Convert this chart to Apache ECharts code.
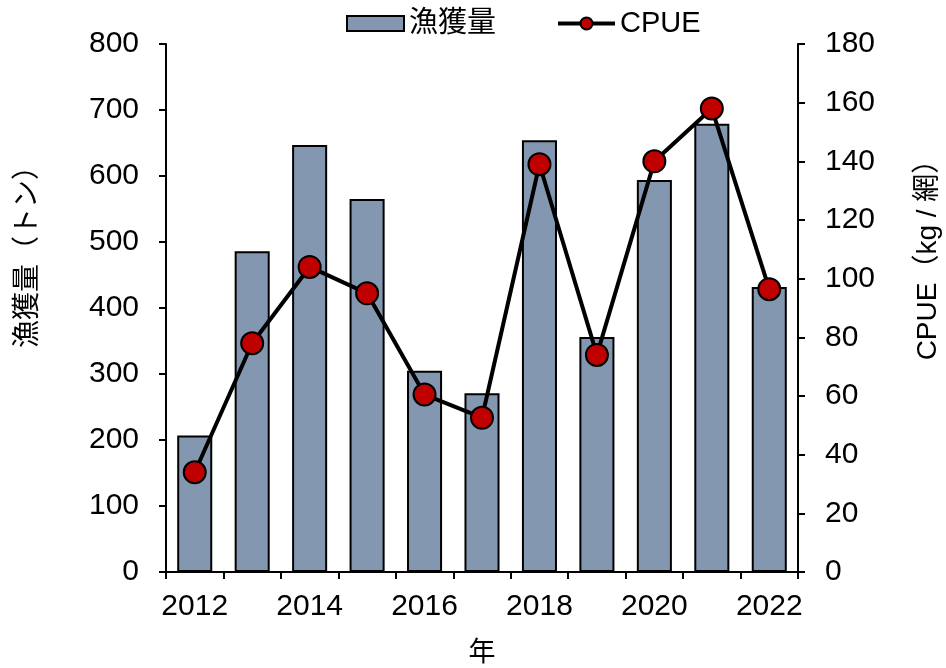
<!DOCTYPE html>
<html>
<head>
<meta charset="utf-8">
<script src="https://cdn.jsdelivr.net/npm/echarts@6/dist/echarts.min.js"></script>
<style>
	html, body {margin: 0; padding: 0; background: #fff;}
	#container {width: 946px; height: 668px;}
</style>
</head>
<body>
<div id="container"></div>
<script>
const Years = ['2012', '2013', '2014', '2015', '2016', '2017', '2018', '2019', '2020', '2021', '2022'];
const Catch = [207, 486, 647, 565, 305, 271, 654, 356, 594, 679, 432];
const Cpue = [34, 78, 104, 95, 60.5, 52.6, 139, 74, 140, 158, 96.4];

const Font = '"Liberation Sans", "Noto Sans CJK JP", sans-serif';
const axisLine = {show: true, lineStyle: {color: '#000', width: 2}};
const axisTick = {show: true, length: 7, lineStyle: {color: '#000', width: 2}};

const option = {
	textStyle: {fontFamily: Font, color: '#000'},
	legend: {
		left: 346, top: 9, padding: 0, itemWidth: 57, itemHeight: 15, itemGap: 60,
		textStyle: {fontSize: 29, color: '#000', fontFamily: Font},
		data: [{name: '漁獲量', icon: 'rect'}, {name: 'CPUE', lineStyle: {width: 4}}]
	},
	grid: {left: 166, right: 148, top: 44, bottom: 96, outerBoundsMode: 'none'},
	xAxis: {
		type: 'category', data: Years, boundaryGap: true,
		name: '年', nameLocation: 'middle', nameGap: 68,
		nameTextStyle: {fontSize: 27, color: '#000', fontFamily: Font},
		axisLine: axisLine,
		axisTick: {show: true, interval: 0, length: 7, lineStyle: {color: '#000', width: 2}},
		axisLabel: {interval: 1, fontSize: 30, color: '#000', margin: 20, fontFamily: Font}
	},
	yAxis: [{
		type: 'value', min: 0, max: 800, interval: 100,
		name: '漁獲量（トン）', nameLocation: 'middle', nameGap: 124, nameRotate: 90,
		nameTextStyle: {fontSize: 28, color: '#000', fontFamily: Font, padding: [0, 0, 0, 116]},
		axisLine: axisLine, axisTick: axisTick, splitLine: {show: false},
		axisLabel: {fontSize: 30, color: '#000', margin: 27, fontFamily: Font}
	}, {
		type: 'value', min: 0, max: 180, interval: 20, position: 'right',
		name: 'CPUE（kg / 網）', nameLocation: 'middle', nameGap: 116, nameRotate: 90,
		nameTextStyle: {fontSize: 28, color: '#000', fontFamily: Font, padding: [0, 0, 0, 110]},
		axisLine: axisLine, axisTick: axisTick, splitLine: {show: false},
		axisLabel: {fontSize: 30, color: '#000', margin: 27, fontFamily: Font}
	}],
	series: [{
		name: '漁獲量', type: 'bar', data: Catch, barWidth: '61%', yAxisIndex: 0,
		itemStyle: {color: '#8497B0', borderColor: '#000', borderWidth: 2}
	}, {
		name: 'CPUE', type: 'line', data: Cpue, yAxisIndex: 1,
		symbol: 'circle', symbolSize: 22,
		lineStyle: {color: '#000', width: 4},
		itemStyle: {color: '#C00000', borderColor: '#000', borderWidth: 2}
	}]
};
echarts.init(document.getElementById('container')).setOption(option);
</script>
</body>
</html>
